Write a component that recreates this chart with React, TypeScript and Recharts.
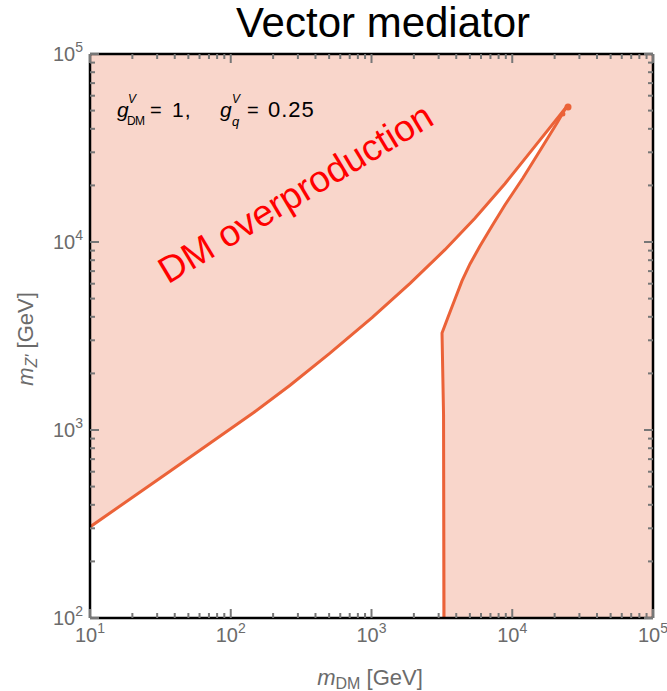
import { Area, ComposedChart, Line, ReferenceArea, ReferenceDot, XAxis, YAxis } from "recharts";

// log-log axes: m_DM on x, m_Z' on y (GeV)
const X_DECADES = [10, 100, 1000, 10000, 100000];
const Y_DECADES = [100, 1000, 10000, 100000];
const MINOR_STEPS = [1, 2, 3, 4, 5, 6, 7, 8, 9];

// upper edge of the contour (relic density line)
const UPPER_X = [10, 37, 144, 264, 507, 1009, 1879, 3327, 5430, 8870, 14520, 24100];
const UPPER_Y = [305, 604, 1231, 1730, 2563, 3965, 6030, 9100, 13390, 20420, 32350, 51900];

// right-hand branch: vertical wall near 3.2 TeV, then up to the tip
const LOWER_X = [3275, 3250, 3170, 3500, 3920, 4395, 5010, 5900, 7180, 8870, 11910, 16000, 20800, 24100];
const LOWER_Y = [100, 1200, 3281, 3990, 4977, 6205, 7640, 9520, 12160, 15740, 21900, 31250, 42950, 51900];

// allowed (white) band: lower and upper m_Z' edge at each m_DM
const BAND_X = [10, 37, 144, 264, 507, 1009, 1879, 3170, 3170, 3500, 3920, 4395, 5010, 5900, 7180, 8870, 11910, 16000, 20800, 24100];
const BAND_LO = [100, 100, 100, 100, 100, 100, 100, 100, 3281, 3990, 4977, 6205, 7640, 9520, 12160, 15740, 21900, 31250, 42950, 51900];
const BAND_HI = [305, 604, 1231, 1730, 2563, 3965, 6030, 8790, 8790, 9460, 10350, 11320, 12540, 14360, 17010, 20420, 26900, 35420, 45290, 51900];

// stray points at the tip
const TIP_X = [22900, 24900];
const TIP_Y = [48000, 52300];

const FILL = "#f9d6cb";
const CURVE = "#eb6238";
const TICK = "#777";
const LABEL = "#6b6b6b";
const FONT = "'Liberation Sans', Arial, sans-serif";

const bandRows = BAND_X.map((x, i) => ({ x, band: [BAND_LO[i], BAND_HI[i]] }));
const upperRows = UPPER_X.map((x, i) => ({ x, y: UPPER_Y[i] }));
const lowerRows = LOWER_X.map((x, i) => ({ x, y: LOWER_Y[i] }));

const withMinors = (decades: number[]) => {
  const out: number[] = [];
  decades.forEach((d, i) => {
    if (i === decades.length - 1) out.push(d);
    else MINOR_STEPS.forEach((m) => out.push(m * d));
  });
  return out;
};
const X_TICKS = withMinors(X_DECADES);
const Y_TICKS = withMinors(Y_DECADES);
const isMajor = (v: number) => Math.abs(Math.log10(v) - Math.round(Math.log10(v))) < 1e-9;

const Pow = ({ v }: { v: number }) => (
  <>
    10<tspan dy={-9} fontSize={14}>{Math.round(Math.log10(v))}</tspan>
  </>
);

function BottomTick({ x, y, payload }: any) {
  const major = isMajor(payload.value);
  return (
    <g>
      <line x1={x} x2={x} y1={y} y2={y - (major ? 9 : 5)} stroke={TICK} strokeWidth={2} />
      {major && (
        <text x={x} y={y + 24} textAnchor="middle" fill={LABEL} fontSize={20} fontFamily={FONT}>
          <Pow v={payload.value} />
        </text>
      )}
    </g>
  );
}

function TopTick({ x, y, payload }: any) {
  const major = isMajor(payload.value);
  return <line x1={x} x2={x} y1={y} y2={y + (major ? 9 : 5)} stroke={TICK} strokeWidth={2} />;
}

function LeftTick({ x, y, payload }: any) {
  const major = isMajor(payload.value);
  return (
    <g>
      <line x1={x} x2={x + (major ? 9 : 5)} y1={y} y2={y} stroke={TICK} strokeWidth={2} />
      {major && (
        <text x={x - 7} y={y + 7} textAnchor="end" fill={LABEL} fontSize={20} fontFamily={FONT}>
          <Pow v={payload.value} />
        </text>
      )}
    </g>
  );
}

function RightTick({ x, y, payload }: any) {
  const major = isMajor(payload.value);
  return <line x1={x} x2={x - (major ? 9 : 5)} y1={y} y2={y} stroke={TICK} strokeWidth={2} />;
}

const frame = { stroke: "#000", strokeWidth: 2.5 };
const xScale = { type: "number" as const, scale: "log" as const, domain: [10, 100000], allowDataOverflow: true };
const yScale = { type: "number" as const, scale: "log" as const, domain: [100, 100000], allowDataOverflow: true };
const xProps = { ...xScale, height: 1, ticks: X_TICKS, interval: 0, tickSize: 0, tickMargin: 0, tickLine: false, axisLine: frame };
const yProps = { ...yScale, width: 1, ticks: Y_TICKS, interval: 0, tickSize: 0, tickMargin: 0, tickLine: false, axisLine: frame };
const layer = { position: "absolute" as const, left: 0, top: 0 };

export default function App() {
  return (
    <div style={{ ...layer, width: 667, height: 691, background: "#fff" }}>
      {/* fills: salmon excluded region, white allowed band */}
      <div style={layer}>
        <ComposedChart width={667} height={691} margin={{ top: 54, right: 14, bottom: 73, left: 90 }}>
          <XAxis dataKey="x" {...xScale} hide />
          <YAxis {...yScale} hide />
          <ReferenceArea x1={10} x2={100000} y1={100} y2={100000} fill={FILL} fillOpacity={1} stroke="none" />
          <Area data={bandRows} dataKey="band" type="linear" fill="#fff" fillOpacity={1} stroke="none" isAnimationActive={false} />
        </ComposedChart>
      </div>
      {/* contour lines, frame and inward ticks on all four sides */}
      <div style={layer}>
        <ComposedChart width={667} height={691} margin={{ top: 53, right: 13, bottom: 72, left: 89 }}>
          <Line data={upperRows} dataKey="y" type="linear" stroke={CURVE} strokeWidth={3} dot={false} isAnimationActive={false} />
          <Line data={lowerRows} dataKey="y" type="linear" stroke={CURVE} strokeWidth={3} dot={false} isAnimationActive={false} />
          {/* invisible copy so the top/right axes get their ticks */}
          <Line data={upperRows} xAxisId="top" yAxisId="right" dataKey="y" stroke="none" dot={false} isAnimationActive={false} />
          {TIP_X.map((x, i) => (
            <ReferenceDot key={i} x={x} y={TIP_Y[i]} r={i === 1 ? 3.5 : 2.5} fill={CURVE} stroke="none" />
          ))}
          <XAxis dataKey="x" {...xProps} tick={BottomTick} />
          <XAxis xAxisId="top" dataKey="x" orientation="top" {...xProps} tick={TopTick} />
          <YAxis {...yProps} tick={LeftTick} />
          <YAxis yAxisId="right" orientation="right" {...yProps} tick={RightTick} />
        </ComposedChart>
      </div>
      <svg width={667} height={691} style={{ ...layer, pointerEvents: "none" }} fontFamily={FONT}>
        <text x={383} y={37} textAnchor="middle" fontSize={42} fill="#000">Vector mediator</text>
        <text x={117} y={117} fontSize={21} fontStyle="italic" fill="#000">g</text>
        <text x={128} y={103} fontSize={12} fontStyle="italic" fill="#000">V</text>
        <text x={127} y={125} fontSize={12} fill="#000" textLength={18}>DM</text>
        <text x={150} y={117} fontSize={20} fill="#000">=</text>
        <text x={172} y={117} fontSize={21} fill="#000" letterSpacing={1}>1,</text>
        <text x={220} y={117} fontSize={21} fontStyle="italic" fill="#000">g</text>
        <text x={232} y={103} fontSize={12} fontStyle="italic" fill="#000">V</text>
        <text x={232} y={126} fontSize={13} fontStyle="italic" fill="#000">q</text>
        <text x={247} y={117} fontSize={20} fill="#000">=</text>
        <text x={268} y={117} fontSize={22} fill="#000" letterSpacing={1}>0.25</text>
        <text transform="translate(302,204) rotate(-31)" textAnchor="middle" fontSize={37} fill="#ff0000">DM overproduction</text>
        <text x={370} y={685} textAnchor="middle" fontSize={22} fill={LABEL}>
          <tspan fontStyle="italic">m</tspan>
          <tspan dy={4} fontSize={16}>DM</tspan>
          <tspan dy={-4}> [GeV]</tspan>
        </text>
        <text transform="translate(33,339) rotate(-90)" textAnchor="middle" fontSize={22} fill={LABEL}>
          <tspan fontStyle="italic">m</tspan>
          <tspan dy={4} fontSize={16} fontStyle="italic">Z'</tspan>
          <tspan dy={-4}> [GeV]</tspan>
        </text>
      </svg>
    </div>
  );
}
